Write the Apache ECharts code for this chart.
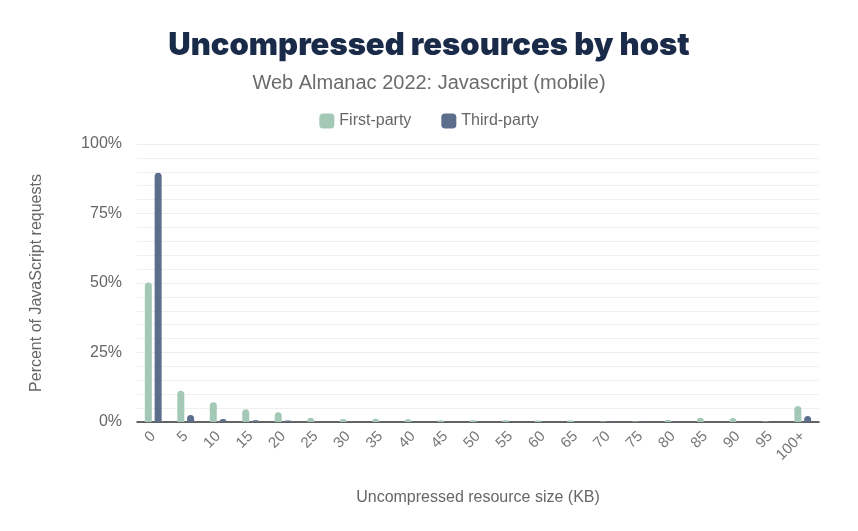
<!DOCTYPE html>
<html><head><meta charset="utf-8">
<script src="https://cdn.jsdelivr.net/npm/echarts@6/dist/echarts.min.js"></script>
<style>html,body{margin:0;padding:0;background:#fff;}#c{width:858px;height:531px;}</style>
</head><body><div id="c"></div>
<script>
const categories = ['0','5','10','15','20','25','30','35','40','45','50','55','60','65','70','75','80','85','90','95','100+'];
const firstParty = [50.2,11.2,7.1,4.6,3.5,1.5,1.1,1.2,1.0,0.6,0.6,0.6,0.5,0.5,0.2,0.2,0.7,1.5,1.4,0.2,5.8];
const thirdParty = [89.7,2.5,1.1,0.6,0.5,0.1,0.1,0.1,0.1,0.1,0.1,0.1,0.1,0.1,0.2,0.2,0.2,0.1,0.1,0.1,2.2];
const yTicks = [0,25,50,75,100];

const chart = echarts.init(document.getElementById('c'));
chart.setOption({
  backgroundColor:'#fff',
  title:{text:'Uncompressed resources by host',subtext:'Web Almanac 2022: Javascript (mobile)',left:'center',top:25,itemGap:12,
    textStyle:{fontFamily:'Inter',fontWeight:900,fontSize:31,color:'#1a2b49'},
    subtextStyle:{fontFamily:'Liberation Sans',fontSize:20,color:'#6b6b6b'}},
  legend:{top:108,left:'center',itemWidth:15,itemHeight:15,itemGap:30,icon:'roundRect',
    textStyle:{fontFamily:'Liberation Sans',fontSize:16,color:'#666'},data:['First-party','Third-party']},
  grid:{left:137,right:39,top:144,bottom:109},
  xAxis:{type:'category',data:categories,name:'Uncompressed resource size (KB)',nameLocation:'middle',nameGap:68,
    nameTextStyle:{fontFamily:'Liberation Sans',fontSize:16,color:'#666'},
    axisLine:{lineStyle:{color:'#333',width:1.5}},axisTick:{show:false},
    axisLabel:{rotate:45,fontFamily:'Liberation Sans',fontSize:15,color:'#777',margin:12,interval:0}},
  yAxis:{type:'value',min:yTicks[0],max:yTicks[yTicks.length-1],interval:25,name:'Percent of JavaScript requests',nameLocation:'middle',nameGap:92,
    nameTextStyle:{fontFamily:'Liberation Sans',fontSize:16,color:'#666'},
    axisLabel:{formatter:'{value}%',fontFamily:'Liberation Sans',fontSize:16,color:'#666',margin:15},
    splitLine:{lineStyle:{color:'#eee'}},minorTick:{show:false,splitNumber:5},minorSplitLine:{show:true,lineStyle:{color:'#f0f0f0'}},
    axisLine:{show:false},axisTick:{show:false}},
  series:[
    {name:'First-party',type:'bar',data:firstParty,barWidth:7,barGap:'40%',itemStyle:{color:'#a3c8b6',borderRadius:[4,4,0,0]}},
    {name:'Third-party',type:'bar',data:thirdParty,barWidth:7,itemStyle:{color:'#5c6e8b',borderRadius:[4,4,0,0]}}
  ]
});
</script></body></html>
